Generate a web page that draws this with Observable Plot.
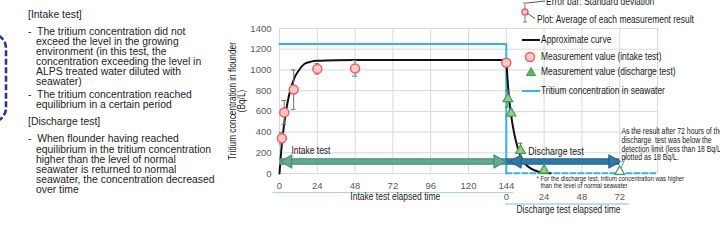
<!DOCTYPE html>
<html><head><meta charset="utf-8">
<script src="https://cdn.jsdelivr.net/npm/d3@7"></script>
<script src="https://cdn.jsdelivr.net/npm/@observablehq/plot@0.6"></script>
<style>
html,body{margin:0;padding:0;background:#fff;}
#wrap{position:relative;width:720px;height:240px;overflow:hidden;background:#fff;}
#chart{position:absolute;left:0;top:0;}
#notes{position:absolute;left:0;top:0;font-family:'Liberation Sans',Arial,sans-serif;font-size:10.4px;color:#222;}
#notes div{position:absolute;white-space:pre;line-height:10px;}
#overlay{position:absolute;left:0;top:0;font-family:'Liberation Sans',Arial,sans-serif;}
#chart [aria-label="y-axis tick label"], #chart [aria-label="x-axis tick label"]{font-family:'Liberation Sans',Arial,sans-serif;font-size:9.5px;}
</style></head>
<body><div id="wrap">
<div id="notes">
<div style="left:28px;top:10px">[Intake test]</div>
<div style="left:28px;top:27px">-  The tritium concentration did not</div>
<div style="left:36px;top:37px">exceed the level in the growing</div>
<div style="left:36px;top:47px">environment (in this test, the</div>
<div style="left:36px;top:57px">concentration exceeding the level in</div>
<div style="left:36px;top:67px">ALPS treated water diluted with</div>
<div style="left:36px;top:77px">seawater)</div>
<div style="left:28px;top:90px">-  The tritium concentration reached</div>
<div style="left:36px;top:100px">equilibrium in a certain period</div>
<div style="left:28px;top:117px">[Discharge test]</div>
<div style="left:28px;top:134px">-  When flounder having reached</div>
<div style="left:36px;top:145px">equilibrium in the tritium concentration</div>
<div style="left:36px;top:155px">higher than the level of normal</div>
<div style="left:36px;top:165px">seawater is returned to normal</div>
<div style="left:36px;top:175px">seawater, the concentration decreased</div>
<div style="left:36px;top:185px">over time</div>
</div>
<div id="chart"></div>
<svg id="overlay" width="720" height="240">
<rect x="-100" y="34" width="106" height="88" rx="14" fill="none" stroke="#26399a" stroke-width="2.6" stroke-dasharray="6 2.5"/>
<g font-size="10.3" fill="#1a1a1a" dominant-baseline="middle">
<line x1="525" y1="3" x2="525" y2="22" stroke="#7f7f7f"/>
<line x1="523" y1="3" x2="527" y2="3" stroke="#7f7f7f"/>
<line x1="523" y1="22" x2="527" y2="22" stroke="#7f7f7f"/>
<circle cx="525" cy="12" r="3" fill="#ffc9c9" stroke="#f25c64" stroke-width="1.3"/>
<line x1="527" y1="3" x2="545" y2="1" stroke="#555"/>
<line x1="527" y1="13" x2="535" y2="18.5" stroke="#555"/>
<text transform="translate(546,2) scale(0.82,1)">Error bar: Standard deviation</text>
<text transform="translate(537,20) scale(0.82,1)">Plot: Average of each measurement result</text>
<line x1="522" y1="40" x2="540" y2="40" stroke="#111" stroke-width="2"/>
<text transform="translate(541,40) scale(0.82,1)">Approximate curve</text>
<circle cx="530" cy="57" r="4.5" fill="#ffc9c9" stroke="#f25c64" stroke-width="1.5"/>
<text transform="translate(541,57) scale(0.82,1)">Measurement value (intake test)</text>
<path d="M531,67.5 L535.5,75.5 L526.5,75.5 Z" fill="#5cb85c" stroke="#3f9f4a"/>
<text transform="translate(541,72) scale(0.82,1)">Measurement value (discharge test)</text>
<line x1="522" y1="91" x2="540" y2="91" stroke="#2fb4ee" stroke-width="2"/>
<text transform="translate(541,91) scale(0.82,1)">Tritium concentration in seawater</text>
</g>
</svg>
</div>
<script>
// ---- data ----
const yTicks = [0, 200, 400, 600, 800, 1000, 1200, 1400];
const intakeTicks = [0, 24, 48, 72, 96, 120, 144];
const dischargeTicks = [0, 24, 48, 72];
const gridHours = [0, 24, 48, 72, 96, 120, 144, 168, 192, 216, 240];
const dischargeStart = 144;

const intakeHours = [1.5, 3, 9, 24, 48, 144];
const intakeMean = [340, 590, 810, 1010, 1015, 1070];
const intakeSD = [55, 115, 190, 50, 75, 20];

const dischargeHours = [1, 3, 9, 24, 72];
const dischargeMean = [721, 582, 222, 30, 18];
const dischargeSD = [80, 30, 70, 15, 0];
const belowDetection = [false, false, false, false, true];

const curveIntakeHours = [0, 1, 2, 3, 4, 6, 8, 10, 12, 16, 20, 24, 36, 48, 144];
const curveIntakeValues = [0, 200, 360, 480, 590, 750, 860, 940, 990, 1060, 1080, 1088, 1094, 1095, 1095];
const curveDischargeHours = [0, 1, 2, 3, 4, 6, 8, 10, 13, 16, 20, 24, 28];
const curveDischargeValues = [1095, 860, 690, 570, 470, 320, 210, 140, 77, 45, 20, 8, 3];

const seawaterIntakeHours = [0, 144, 144];
const seawaterIntakeValues = [1250, 1250, 0];
const seawaterDischargeHours = [0, 96];
const seawaterDischargeValues = [3, 3];

const intakeArrowHours = [0, 144];
const dischargeArrowHours = [0, 72];
const arrowLevel = 116;

const yTitle = "Tritium concentration in flounder\n(Bq/L)";
const xTitle = "Intake test elapsed time";
const x2Title = "Discharge test elapsed time";
const intakeLabel = "Intake test";
const dischargeLabel = "Discharge test";
const footnote1 = "* For the discharge test, tritium concentration was higher";
const footnote2 = "than the level of normal seawater";
const detectNote = "As the result after 72 hours of the\ndischarge  test was below the\ndetection limit (less than 18 Bq/L),\nplotted as 18 Bq/L.";

// ---- tables ----
const ptsI = intakeHours.map((t, i) => ({t, v: intakeMean[i], sd: intakeSD[i]}));
const ptsD = dischargeHours.map((t, i) => ({t: t + dischargeStart, v: dischargeMean[i], sd: dischargeSD[i], hollow: belowDetection[i]}));
const curveI = curveIntakeHours.map((t, i) => ({t, v: curveIntakeValues[i]}));
const curveD = curveDischargeHours.map((t, i) => ({t: t + dischargeStart, v: curveDischargeValues[i]}));
const seaI = seawaterIntakeHours.map((t, i) => ({t, v: seawaterIntakeValues[i]}));
const seaD = seawaterDischargeHours.map((t, i) => ({t: t + dischargeStart, v: seawaterDischargeValues[i]}));
const errs = ptsI.concat(ptsD).filter(d => d.sd > 0);

const FONT = "'Liberation Sans',Arial,sans-serif";
const GRID = "#d9d9d9";

function arrowMarks(h0, h1, fill, stroke, dxL, dxR) {
  return [
    Plot.ruleY([arrowLevel], {x1: h0, x2: h1, stroke: stroke, strokeWidth: 6.5}),
    Plot.ruleY([arrowLevel], {x1: h0, x2: h1, stroke: fill, strokeWidth: 4.5}),
    Plot.dot([h0], {x: d => d, y: arrowLevel, symbol: "triangle", r: 5, rotate: -90, dx: dxL, fill: fill, stroke: stroke, strokeWidth: 1}),
    Plot.dot([h1], {x: d => d, y: arrowLevel, symbol: "triangle", r: 5, rotate: 90, dx: dxR, fill: fill, stroke: stroke, strokeWidth: 1})
  ];
}

const chart = Plot.plot({
  width: 720, height: 240,
  marginLeft: 279, marginRight: 63, marginTop: 28, marginBottom: 67,
  x: {domain: [0, 240]},
  y: {domain: [0, 1400]},
  style: {background: "transparent", color: "#595959", fontFamily: FONT, fontSize: "10.3px", overflow: "visible"},
  marks: [
    Plot.gridX(gridHours, {stroke: GRID, strokeOpacity: 1}),
    Plot.gridY(yTicks, {stroke: GRID, strokeOpacity: 1}),
    Plot.axisY(yTicks, {tickSize: 0, tickPadding: 8, label: null, tickFormat: d => String(d)}),
    Plot.axisX(intakeTicks, {tickSize: 0, tickPadding: 9, label: null, tickFormat: d => String(d)}),
    Plot.text(dischargeTicks, {x: d => d + dischargeStart, text: d => String(d), frameAnchor: "bottom", dy: 26, fontSize: 9.5, fill: "#595959"}),
    Plot.ruleY([0], {x1: -4, x2: 148.5, dy: 19, stroke: "#a9d9c8", strokeWidth: 1.2}),
    Plot.ruleY([0], {x1: 143.5, x2: 222, dy: 30.5, stroke: "#86b8e2", strokeWidth: 1.2}),
    Plot.text([yTitle], {frameAnchor: "left", textAnchor: "middle", rotate: -90, dx: -41.5, lineHeight: 0.9, fill: "#1a1a1a", fontSize: 10.1}),
    Plot.text([xTitle], {x: 73.5, frameAnchor: "bottom", dy: 26, fill: "#1a1a1a", fontSize: 10.4}),
    Plot.text([x2Title], {x: 183.5, frameAnchor: "bottom", dy: 39, fill: "#1a1a1a", fontSize: 10.3}),
    Plot.line(seaI, {x: "t", y: "v", stroke: "#2fb4ee", strokeWidth: 2}),
    Plot.line(seaD, {x: "t", y: "v", stroke: "#2fb4ee", strokeWidth: 2, strokeDasharray: "5,3"}),
    Plot.line(curveI, {x: "t", y: "v", curve: "monotone-x", stroke: "#111", strokeWidth: 2}),
    Plot.line(curveD, {x: "t", y: "v", curve: "monotone-x", stroke: "#111", strokeWidth: 2}),
    ...arrowMarks(intakeArrowHours[0], intakeArrowHours[1], "#62a892", "#3e8a72", 8.5, -8.5),
    ...arrowMarks(dischargeArrowHours[0] + dischargeStart, dischargeArrowHours[1] + dischargeStart, "#2e78aa", "#1d5f8c", 11, -7),
    Plot.ruleX(errs, {x: "t", y1: d => d.v - d.sd, y2: d => d.v + d.sd, stroke: "#6f6f6f"}),
    Plot.ruleY(errs, {y: d => d.v + d.sd, x1: d => d.t - 1.5, x2: d => d.t + 1.5, stroke: "#6f6f6f"}),
    Plot.ruleY(errs, {y: d => d.v - d.sd, x1: d => d.t - 1.5, x2: d => d.t + 1.5, stroke: "#6f6f6f"}),
    Plot.link([0], {x1: 216.6, y1: 40, x2: 220, y2: 170, stroke: "#5b9bd5"}),
    Plot.dot(ptsI, {x: "t", y: "v", r: 4.5, fill: "#ffc9c9", stroke: "#f25c64", strokeWidth: 1.5}),
    Plot.dot(ptsD, {x: "t", y: "v", symbol: "triangle", r: 3.6, fill: d => d.hollow ? "#ffffff" : "#8fd18a", stroke: "#3f9f4a", strokeWidth: 1.2}),
    Plot.text([intakeLabel], {x: 7.6, y: 222, textAnchor: "start", fill: "#1a1a1a", fontSize: 10.3}),
    Plot.text([dischargeLabel], {x: 158, y: 212, textAnchor: "start", fill: "#1a1a1a", fontSize: 10.6}),
    Plot.text([footnote1], {x: 163.2, frameAnchor: "bottom", dy: 7.7, textAnchor: "start", fill: "#1a1a1a", fontSize: 7.2}),
    Plot.text([footnote2], {x: 165.8, frameAnchor: "bottom", dy: 14.3, textAnchor: "start", fill: "#1a1a1a", fontSize: 7.2}),
    Plot.text([detectNote], {x: 217.1, y: 280, textAnchor: "start", lineAnchor: "middle", lineHeight: 1.03, fill: "#1a1a1a", fontSize: 8.4})
  ]
});
document.getElementById("chart").appendChild(chart);

// condense (Arial Narrow look) every non-numeric text of the chart,
// scaling each one about its anchor point along its reading direction
const SVGNS = "http://www.w3.org/2000/svg";
Array.from(chart.querySelectorAll("text")).forEach(el => {
  if (/^[\d,.\s]*$/.test(el.textContent)) return;
  const c = el.transform && el.transform.baseVal.numberOfItems ? el.transform.baseVal.consolidate() : null;
  const m = c ? c.matrix : {a: 1, b: 0, c: 0, d: 1, e: 0, f: 0};
  const ax = m.e, ay = m.f;
  const vertical = Math.abs(m.b) > 0.5;
  const g = document.createElementNS(SVGNS, "g");
  g.setAttribute("transform", `translate(${ax},${ay}) scale(${vertical ? "1,0.82" : "0.82,1"}) translate(${-ax},${-ay})`);
  el.parentNode.insertBefore(g, el);
  g.appendChild(el);
});
</script>
</body></html>
